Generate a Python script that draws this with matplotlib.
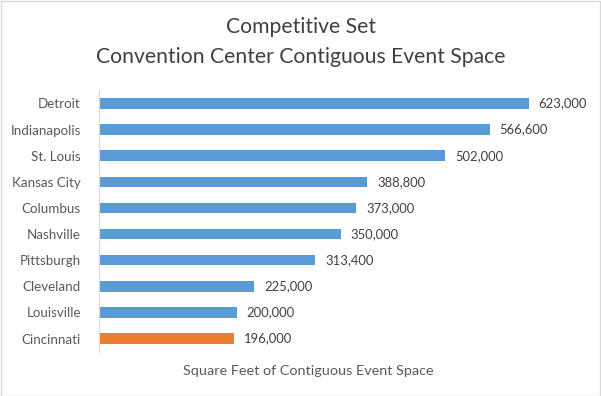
import matplotlib
matplotlib.use("Agg")
import matplotlib.pyplot as plt
from matplotlib.patches import Rectangle

cities = ["Detroit", "Indianapolis", "St. Louis", "Kansas City", "Columbus",
          "Nashville", "Pittsburgh", "Cleveland", "Louisville", "Cincinnati"]
values = [623000, 566600, 502000, 388800, 373000, 350000, 313400, 225000, 200000, 196000]
colors = ["#5B9BD5"] * 9 + ["#ED7D31"]
title_lines = ["Competitive Set", "Convention Center Contiguous Event Space"]
xlabel = "Square Feet of Contiguous Event Space"

plt.rcParams['font.family'] = ['Lato', 'DejaVu Sans']
W, H = 601, 396
fig = plt.figure(figsize=(W / 100, H / 100), dpi=100)
fig.patch.set_facecolor("white")
fig.add_artist(Rectangle((0.5 / W, 0.5 / H), 1 - 1.5 / W, 1 - 1.5 / H, transform=fig.transFigure,
                         fill=False, edgecolor="#D9D9D9", linewidth=1))

left, right = 99 / W, 582 / W
top, bottom = 1 - 90.4 / H, 1 - 351.6 / H
ax = fig.add_axes([left, bottom, right - left, top - bottom])
ypos = list(range(len(cities)))
ax.barh(ypos, values, height=0.4, color=colors)
ax.set_ylim(len(cities) - 0.5, -0.5)
ax.set_xlim(0, 700000)
ax.set_yticks(ypos)
ax.set_yticklabels(cities, fontsize=9.6, color="#595959")
ax.tick_params(axis="y", length=0, pad=13)
ax.set_xticks([])
for s in ["top", "right", "bottom"]:
    ax.spines[s].set_visible(False)
ax.spines["left"].set_color("#D9D9D9")
ax.spines["left"].set_linewidth(0.8)
for y, v in zip(ypos, values):
    ax.annotate(f"{v:,}", (v, y), xytext=(7, 0), textcoords="offset points",
                va="center", ha="left", fontsize=9.4, color="#404040")

for yy, line in zip([27, 57], title_lines):
    fig.text(300.5 / W, 1 - yy / H, line, ha="center", va="center", fontsize=15.2,
             color="#404040")
fig.text(308 / W, 1 - 371 / H, xlabel, ha="center", va="center", fontsize=10.4,
         color="#595959")

fig.savefig("out.png", dpi=100, facecolor="white")
